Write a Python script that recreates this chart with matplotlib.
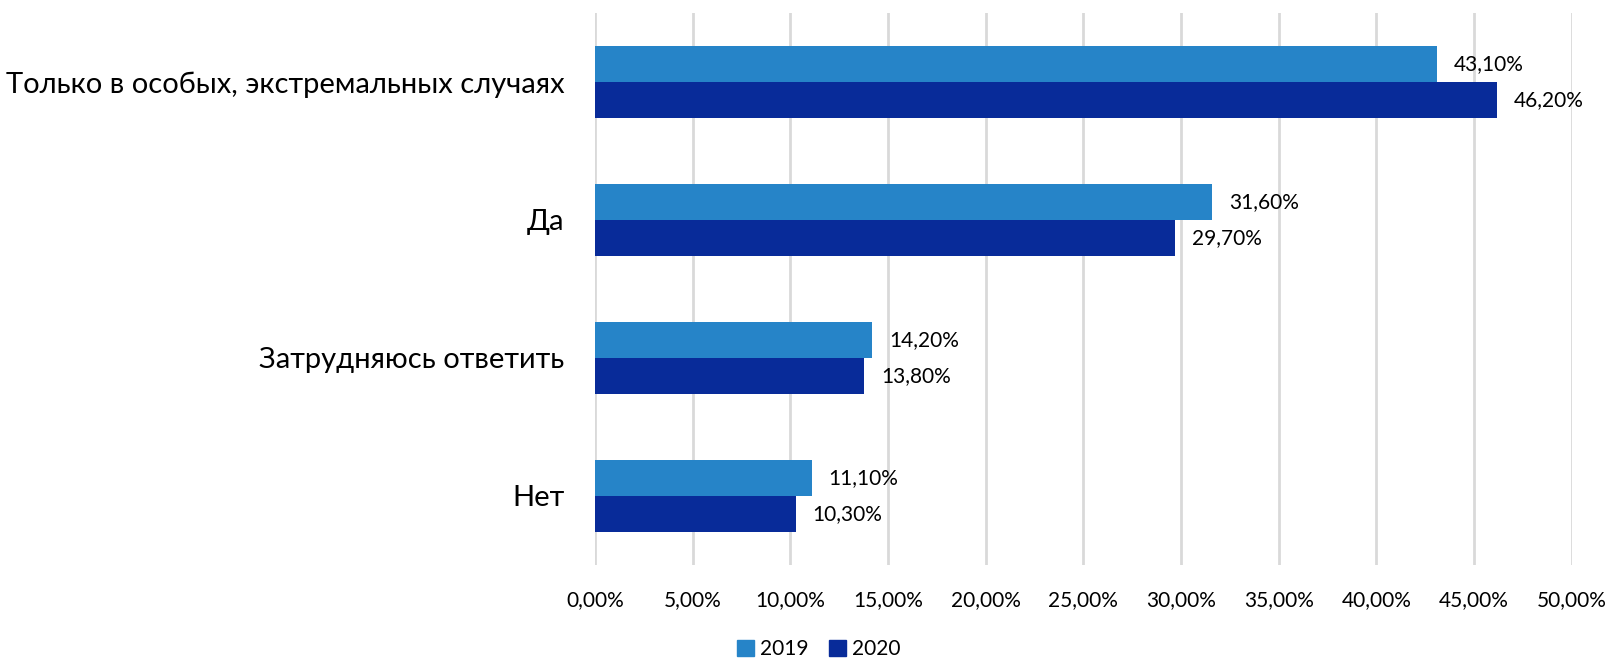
import matplotlib
matplotlib.use("Agg")
import matplotlib.pyplot as plt
import numpy as np
from matplotlib.patches import Patch

categories = ["Только в особых, экстремальных случаях", "Да", "Затрудняюсь ответить", "Нет"]
values_2019 = [43.1, 31.6, 14.2, 11.1]
values_2020 = [46.2, 29.7, 13.8, 10.3]
series_names = ["2019", "2020"]
xticks = [0, 5, 10, 15, 20, 25, 30, 35, 40, 45, 50]

c2019 = "#2684C8"
c2020 = "#082B99"

plt.rcParams['font.family'] = ['Lato', 'DejaVu Sans']

fig = plt.figure(figsize=(16.12, 6.59), dpi=100)
ax = fig.add_axes([0.369, 0.1426, 0.606, 0.838])

n = len(categories)
y = np.arange(n)
h = 0.26
ax.barh(y - h/2, values_2019, height=h, color=c2019, zorder=3)
ax.barh(y + h/2, values_2020, height=h, color=c2020, zorder=3)

def fmt(v):
    return f"{v:.2f}".replace(".", ",") + "%"

for i in range(n):
    ax.text(values_2019[i] + 0.85, y[i] - h/2, fmt(values_2019[i]), va='center', ha='left', fontsize=15, color='#000000')
    ax.text(values_2020[i] + 0.85, y[i] + h/2, fmt(values_2020[i]), va='center', ha='left', fontsize=15, color='#000000')

ax.set_xlim(0, 50)
ax.set_ylim(n - 0.5, -0.5)
ax.set_xticks(xticks)
ax.set_xticklabels([fmt(t) for t in xticks], fontsize=15)
ax.set_yticks(y)
ax.set_yticklabels(categories, fontsize=21)
ax.tick_params(axis='y', length=0, pad=22)
ax.tick_params(axis='x', length=0, pad=18)
for s in ax.spines.values():
    s.set_visible(False)
ax.xaxis.grid(True, color='#D9D9D9', linewidth=2, zorder=0)
ax.set_axisbelow(True)

handles = [Patch(color=c2019, label=series_names[0]), Patch(color=c2020, label=series_names[1])]
fig.legend(handles=handles, loc='center', bbox_to_anchor=(0.508, 0.015), ncol=2, frameon=False,
           fontsize=15, handlelength=0.8, handleheight=0.8, handletextpad=0.3, columnspacing=1.0)

fig.savefig("out.png", dpi=100)
